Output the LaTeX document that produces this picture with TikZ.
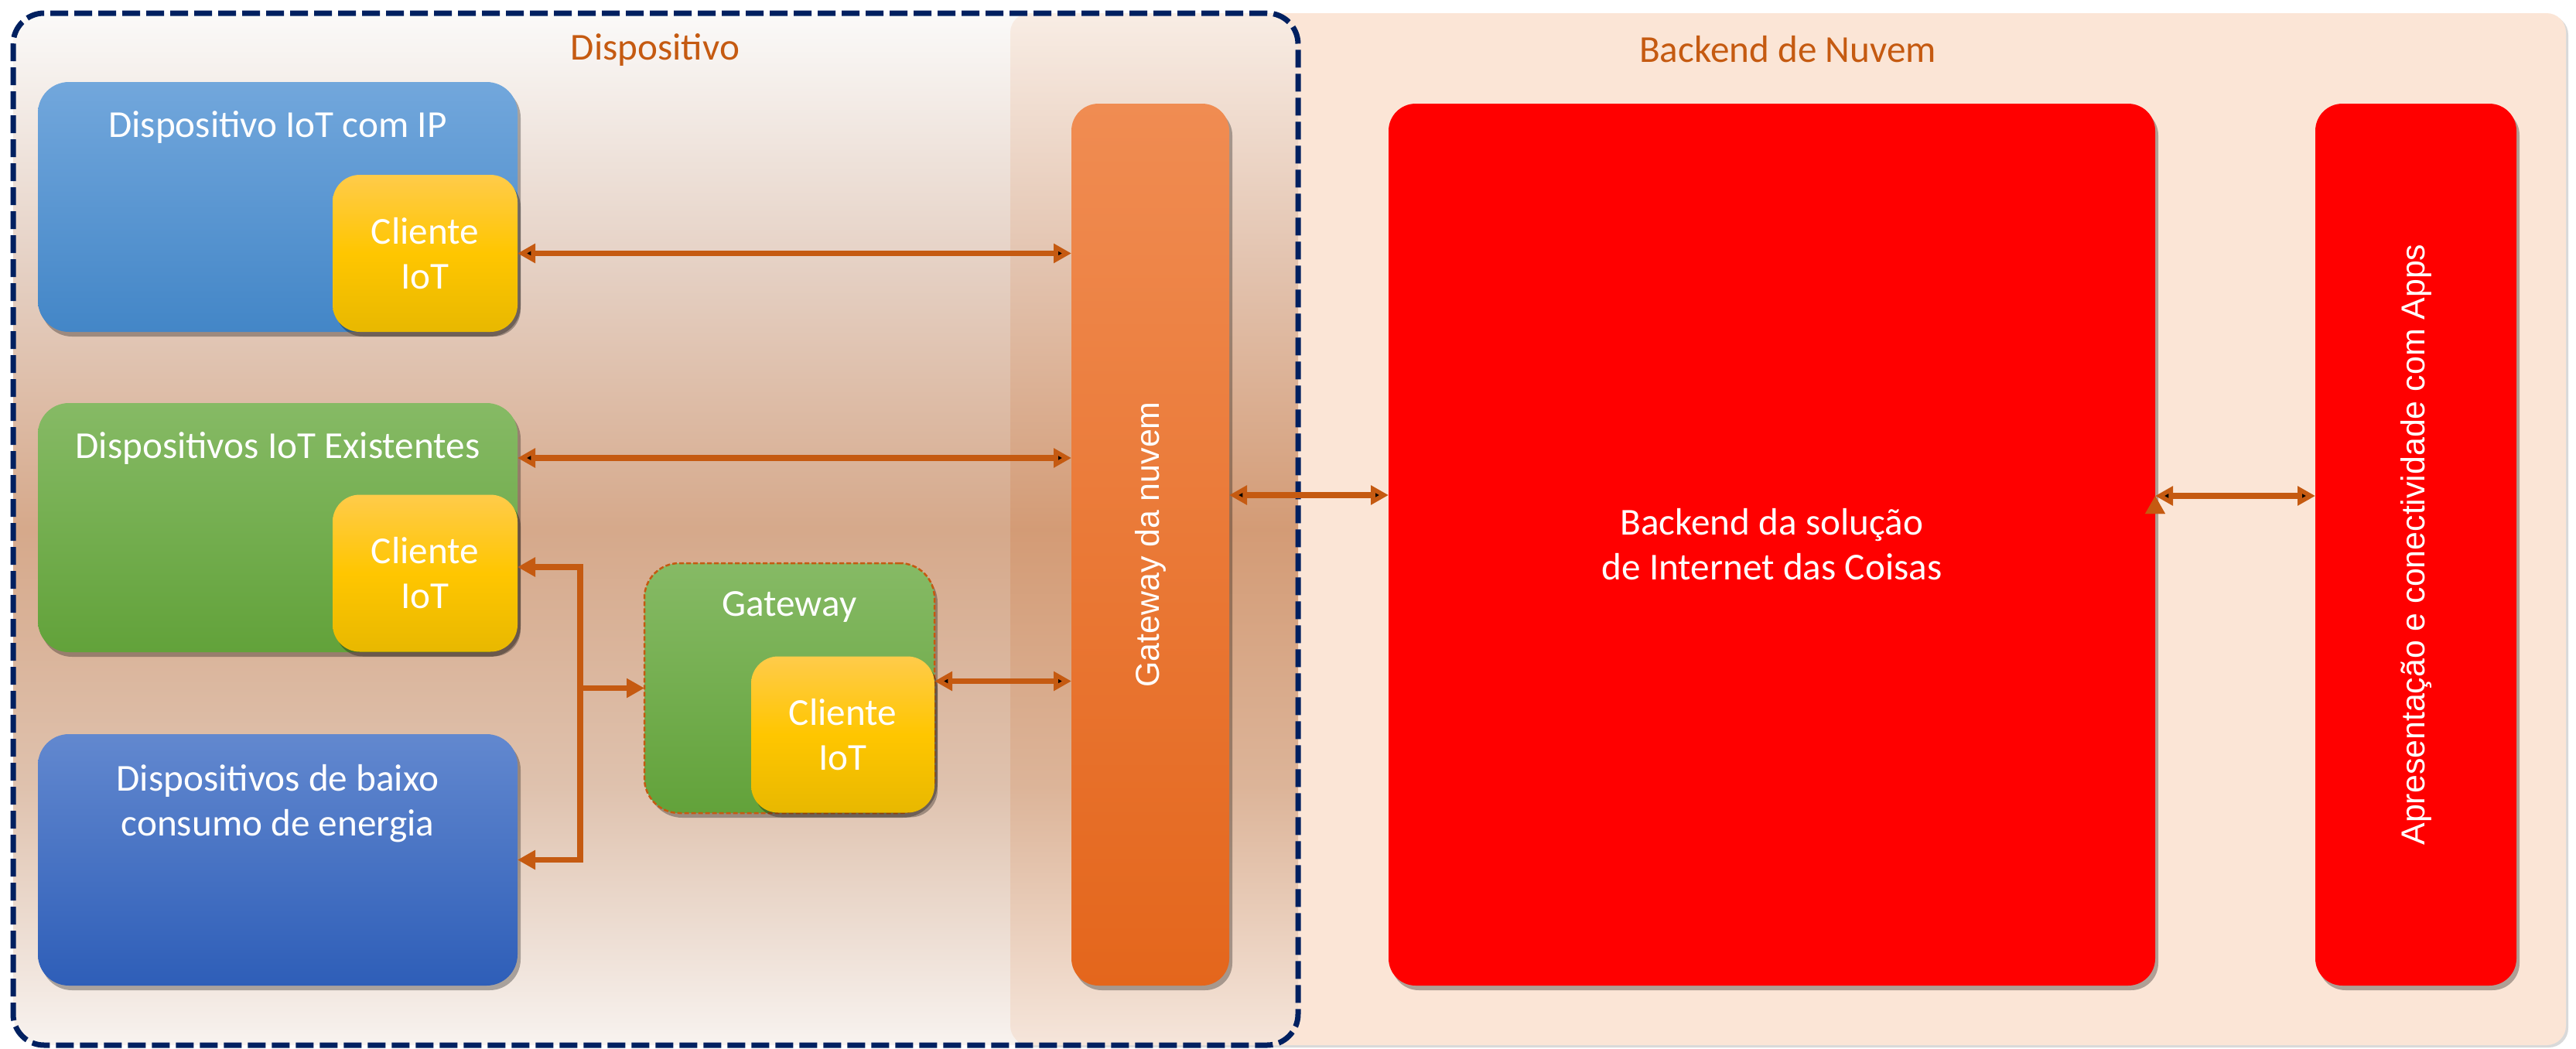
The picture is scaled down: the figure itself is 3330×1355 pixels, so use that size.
\documentclass[tikz,border=0pt]{standalone}
\usepackage{fontspec}
\setmainfont{Carlito}
\newfontfamily\widesans{Liberation Sans}
\usetikzlibrary{arrows.meta,shadows}

\definecolor{arrowbrown}{HTML}{C55A11}
\definecolor{navy}{HTML}{002060}
\definecolor{nuvempeach}{HTML}{FBE5D6}
\definecolor{bluetop}{HTML}{72A7DC}
\definecolor{bluebot}{HTML}{4386C7}
\definecolor{yellowtop}{HTML}{FFCB4A}
\definecolor{yellowmid}{HTML}{FFC600}
\definecolor{yellowbot}{HTML}{E8B800}
\definecolor{greentop}{HTML}{86BA65}
\definecolor{greenbot}{HTML}{62A23A}
\definecolor{darkbluetop}{HTML}{6288CF}
\definecolor{darkbluebot}{HTML}{2E5EB8}
\definecolor{orangetop}{HTML}{F08C52}
\definecolor{orangebot}{HTML}{E4661C}
\definecolor{bgtop}{HTML}{F7F5F3}
\definecolor{bgquart}{HTML}{CBA187}
\definecolor{bgmid}{HTML}{AD5317}
\definecolor{bgthreeq}{HTML}{BF855D}
\definecolor{bgbot}{HTML}{F1E7E0}

\pgfdeclareverticalshading{devbg}{100bp}{color(0bp)=(bgbot); color(25bp)=(bgbot);
  color(37.5bp)=(bgthreeq); color(50bp)=(bgmid); color(62.5bp)=(bgquart);
  color(75bp)=(bgtop); color(100bp)=(bgtop)}

\begin{document}
\begin{tikzpicture}[x=0.1mm,y=-0.1mm,>={Triangle[length=2.3mm,width=2.4mm]},
  every node/.style={inner sep=0pt,outer sep=0pt},
  shd/.style={drop shadow={shadow xshift=0.4mm,shadow yshift=-0.6mm,fill=black,opacity=0.3}},
  lbl/.style={text=white,align=center,font=\fontsize{14}{16.5}\selectfont},
  box/.style={rounded corners=4mm,shd,lbl},
  devbox/.style={box,minimum width=62mm},
  client/.style={box,rounded corners=3.5mm,top color=yellowtop,bottom color=yellowbot,
    middle color=yellowmid,minimum width=23.9mm,minimum height=20.3mm},
  tallbox/.style={box,rounded corners=3.5mm,minimum height=114mm},
  title/.style={text=arrowbrown,font=\fontsize{14}{16.5}\selectfont},
  link/.style={<->,draw=arrowbrown,line width=0.75mm}]

  \useasboundingbox (0,0) rectangle (3330,1355);

  % areas
  \node[fill=nuvempeach,rounded corners=2.5mm,minimum width=201.1mm,minimum height=133.4mm,
    drop shadow={shadow xshift=0.3mm,shadow yshift=-0.3mm,fill=black,opacity=0.15}] (nuvem) at (2311.5,684) {};
  \node[shading=devbg,fill opacity=0.5,draw=navy,line width=0.7mm,
    dash pattern=on 2.3mm off 0.8mm,rounded corners=4mm,
    minimum width=166.1mm,minimum height=133.4mm] (disp) at (847.5,684) {};
  \node[title] (tdisp) at (847,64) {Dispositivo};
  \node[title] (tnuvem) at (2311,64) {Backend de Nuvem};

  % devices
  \node[devbox,top color=bluetop,bottom color=bluebot,minimum height=32.3mm,
    label={[lbl,anchor=center,yshift=-5.8mm]north:Dispositivo IoT com IP}] (iotip) at (359,267.5) {};
  \node[client] (cli1) at (549.5,327.5) {Cliente\\IoT};
  \node[devbox,top color=greentop,bottom color=greenbot,minimum height=32.2mm,
    label={[lbl,anchor=center,yshift=-5.8mm]north:Dispositivos IoT Existentes}] (exist) at (359,682) {};
  \node[client] (cli2) at (549.5,741) {Cliente\\IoT};
  \node[devbox,top color=darkbluetop,bottom color=darkbluebot,minimum height=32.5mm,
    label={[lbl,anchor=center,yshift=-9mm]north:Dispositivos de baixo\\consumo de energia}] (low) at (359,1111.5) {};
  \node[box,rounded corners=4.5mm,top color=greentop,bottom color=greenbot,
    draw=arrowbrown,line width=0.25mm,dash pattern=on 0.6mm off 0.3mm,
    minimum width=37.5mm,minimum height=32.3mm,
    label={[lbl,anchor=center,yshift=-5.6mm]north:Gateway}] (gw) at (1020.5,889.5) {};
  \node[client,minimum width=23.7mm,minimum height=20.2mm] (cli3) at (1089.5,949.5) {Cliente\\IoT};

  % cloud
  \node[tallbox,top color=orangetop,bottom color=orangebot,minimum width=20.4mm] (gwn) at (1487,704)
    {\rotatebox{90}{\widesans\fontsize{12.2}{14}\selectfont Gateway da nuvem}};
  \node[tallbox,fill=red,minimum width=99.1mm] (back) at (2290.5,704)
    {Backend da solução\\de Internet das Coisas};
  \node[tallbox,fill=red,minimum width=26mm] (apps) at (3123,704)
    {\rotatebox{90}{\widesans\fontsize{12.2}{14}\selectfont Apresentação e conectividade com Apps}};

  % connectors
  \coordinate (e2) at ([yshift=-7.1mm]exist.north east);
  \coordinate (c5) at ([yshift=6.9mm]cli3.east);
  \coordinate (g3) at ([yshift=6.4mm]gwn.east);
  \coordinate (b4) at ([yshift=6.3mm]back.east);
  \coordinate (bt) at (750,733);

  \path[link]
    (cli1.east) edge (cli1.east -| gwn.west)
    (e2) edge (e2 -| gwn.west)
    (c5) edge (c5 -| gwn.west)
    (g3) edge (g3 -| back.west)
    (b4) edge (b4 -| apps.west);
  \draw[link] (cli2.east |- bt) -- (bt) -- (bt |- low.east) -- (low.east);
  \draw[link,->] (bt |- gw.west) -- (gw.west);
\end{tikzpicture}
\end{document}
